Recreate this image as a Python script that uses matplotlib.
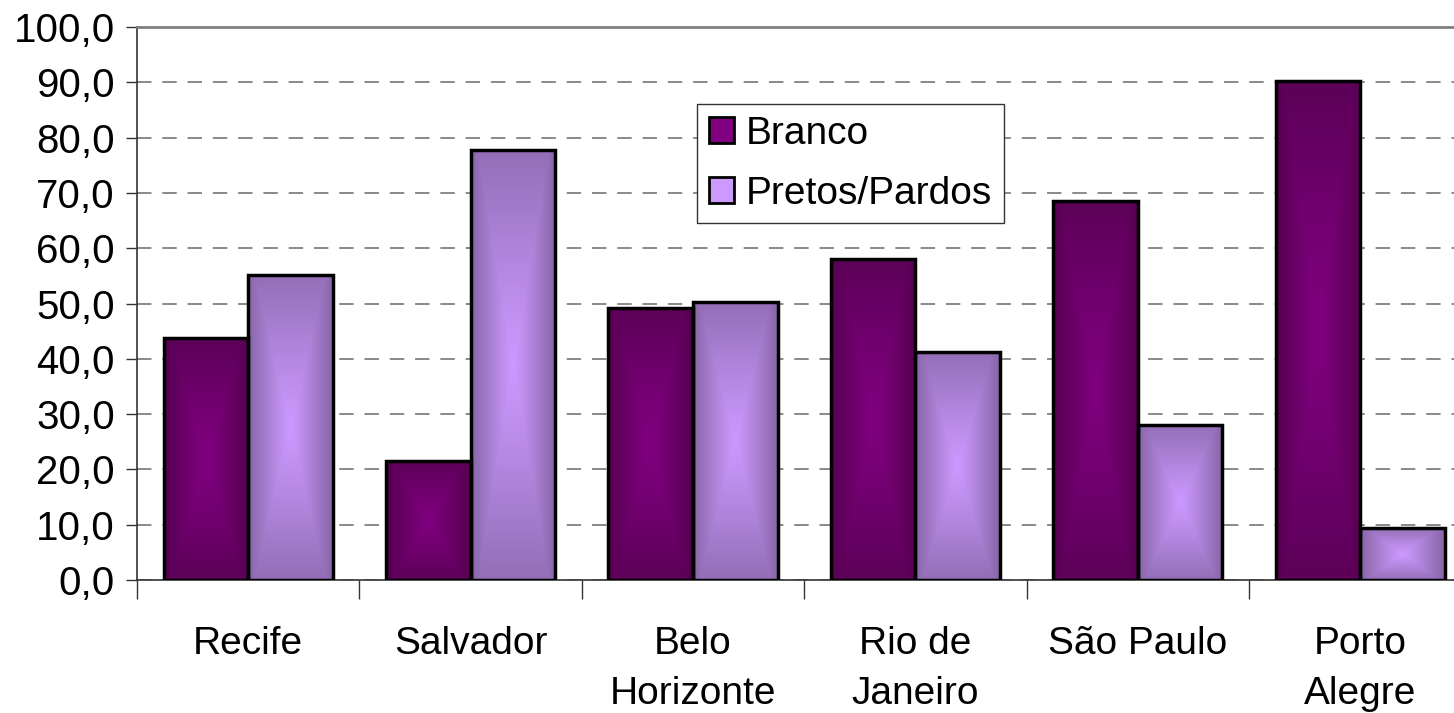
import numpy as np
import matplotlib
matplotlib.use("Agg")
import matplotlib.pyplot as plt
from matplotlib.patches import Rectangle
from matplotlib.colors import to_rgb

categories = ["Recife", "Salvador", "Belo\nHorizonte", "Rio de\nJaneiro", "São Paulo", "Porto\nAlegre"]
branco = [43.8, 21.5, 49.2, 58.0, 68.5, 90.2]
pretos = [55.2, 77.8, 50.3, 41.2, 28.0, 9.4]
yticks = [0, 10, 20, 30, 40, 50, 60, 70, 80, 90, 100]

series = [
    ("Branco", branco, "#560050", "#800080"),
    ("Pretos/Pardos", pretos, "#8866a8", "#cc99ff"),
]

plt.rcParams['font.family'] = ['Liberation Sans', 'DejaVu Sans']
FS_Y = 29
FS = 28
W, H = 1454, 713
fig = plt.figure(figsize=(W / 100, H / 100), dpi=100)
left_px, right_px, top_px, bot_px = 137, 137 + 6 * 222.4, 27, 580
ax = fig.add_axes([left_px / W, 1 - bot_px / H, (right_px - left_px) / W, (bot_px - top_px) / H])

n = len(categories)
bw = 0.38


def gradient_img(edge, center, ny=200, nx=60):
    e = np.array(to_rgb(edge)); c = np.array(to_rgb(center))
    ys = np.linspace(-1, 1, ny)[:, None]
    xs = np.linspace(-1, 1, nx)[None, :]
    t = np.maximum(np.abs(xs), 0.85 * np.abs(ys))
    t = np.clip(t, 0, 1) ** 1.1
    img = c[None, None, :] * (1 - t[..., None]) + e[None, None, :] * t[..., None]
    return img


for si, (name, vals, edge, center) in enumerate(series):
    for i, v in enumerate(vals):
        x0 = i + 0.5 - bw + si * bw
        rect = Rectangle((x0, 0), bw, v, facecolor="none", edgecolor="black", linewidth=2.5, zorder=4)
        ax.add_patch(rect)
        im = ax.imshow(gradient_img(edge, center), extent=(x0, x0 + bw, 0, v),
                       aspect="auto", zorder=3, interpolation="bilinear")
        im.set_clip_path(rect)

ax.set_xlim(0, n)
ax.set_ylim(0, 100)

ax.set_yticks(yticks)
ax.set_yticklabels([f"{t:.1f}".replace(".", ",") for t in yticks], fontsize=FS_Y)
ax.yaxis.grid(True, linestyle=(0, (8, 6)), color="#808080", linewidth=1.3, zorder=0)
ax.set_axisbelow(True)

ax.set_xticks(np.arange(0, n + 1))
ax.set_xticklabels([])
ax.set_xticks(np.arange(n) + 0.5, minor=True)
ax.set_xticklabels(categories, minor=True, fontsize=FS, va="top", linespacing=1.5)
ax.tick_params(axis="x", which="major", direction="out", length=14, width=1.0, color="#333333")
ax.tick_params(axis="x", which="minor", length=0, pad=33)
ax.tick_params(axis="y", direction="out", length=8, width=1.0, color="#333333", pad=8)

ax.spines["right"].set_visible(False)
ax.spines["top"].set_color("#808080")
ax.spines["top"].set_linewidth(2.0)
for s in ["left", "bottom"]:
    ax.spines[s].set_color("#333333")
    ax.spines[s].set_linewidth(1.2)

handles = [Rectangle((0, 0), 1, 1, facecolor=c, edgecolor="black", linewidth=2) for _, _, _, c in series]
leg = ax.legend(handles, [s[0] for s in series], loc="upper left",
                bbox_to_anchor=((697 - left_px) / (right_px - left_px), 1 - (104 - top_px) / (bot_px - top_px)),
                fontsize=FS, frameon=True, fancybox=False, edgecolor="#333333", framealpha=1.0,
                handlelength=0.65, handleheight=0.65, handletextpad=0.3,
                labelspacing=0.62, borderpad=0.3, borderaxespad=0)
leg.get_frame().set_linewidth(1.0)
leg.set_zorder(10)

fig.savefig("out.png", dpi=100)
